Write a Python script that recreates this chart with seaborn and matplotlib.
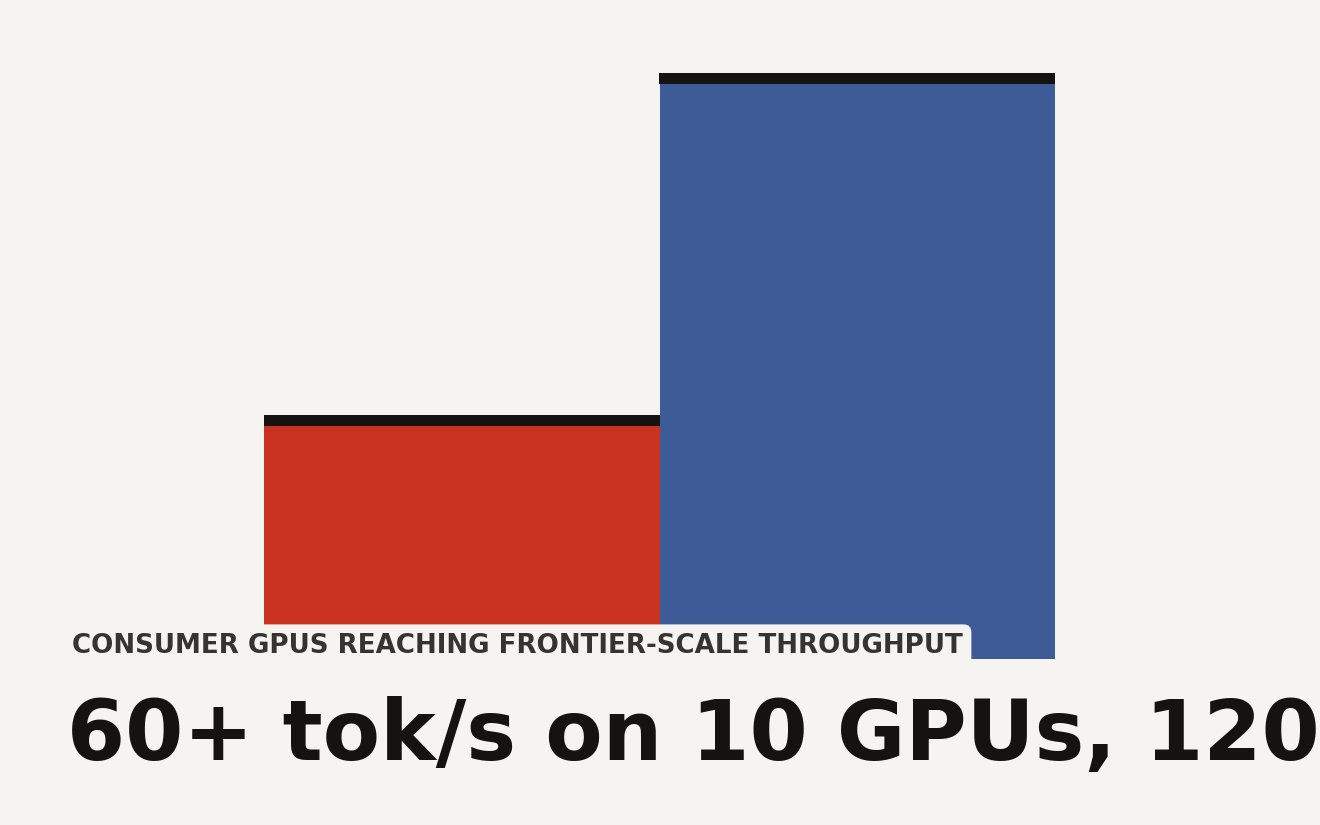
import matplotlib
matplotlib.use("Agg")
import matplotlib.pyplot as plt
import seaborn as sns

# data
setups = ["10 consumer GPUs", "frontier"]
tok_s = [60, 144]
bar_colors = ["#c8321f", "#3d5b96"]

bg = "#f5f4f0"
ink = "#14130f"

sns.set_theme(style="white")
plt.rcParams["font.family"] = ["DejaVu Sans"]

W, H = 1320, 825
fig = plt.figure(figsize=(W / 100, H / 100), dpi=100, facecolor=bg)

# axes box in pixels: bars from x=264 to 1055, baseline at y=659
left, right, base = 264, 1055, 659
ymax = 150
px_per_unit = (base - 73) / max(tok_s)
top = base - ymax * px_per_unit
ax = fig.add_axes([left / W, (H - base) / H, (right - left) / W, (base - top) / H])
ax.set_facecolor(bg)

sns.barplot(x=setups, y=tok_s, hue=setups, palette=bar_colors, width=1,
            saturation=1, legend=False, ax=ax, edgecolor="none", linewidth=0)

# black cap along the top of each bar
cap = 11 / px_per_unit
ax.bar(range(len(tok_s)), [cap] * len(tok_s), bottom=[v - cap for v in tok_s],
       width=1.004, color=ink, linewidth=0)

ax.set_xlim(-0.5, len(tok_s) - 0.5)
ax.set_ylim(0, ymax)
ax.set_xticks([])
ax.set_yticks([])
ax.set_xlabel("")
ax.set_ylabel("")
for s in ax.spines.values():
    s.set_visible(False)

fig.text(72 / W, 1 - 653 / H, "CONSUMER GPUS REACHING FRONTIER-SCALE THROUGHPUT",
         fontsize=18.8, fontweight="bold", color="#353430", va="baseline", ha="left",
         bbox=dict(boxstyle="round,pad=0.33,rounding_size=0.3", fc=bg, ec="none"))

fig.text(67 / W, 1 - 760 / H, "60+ tok/s on 10 GPUs, 120+ tok/s on frontier hardware",
         fontsize=60.2, fontweight="bold", color=ink, va="baseline", ha="left")

fig.savefig("out.png", dpi=100, facecolor=bg)
